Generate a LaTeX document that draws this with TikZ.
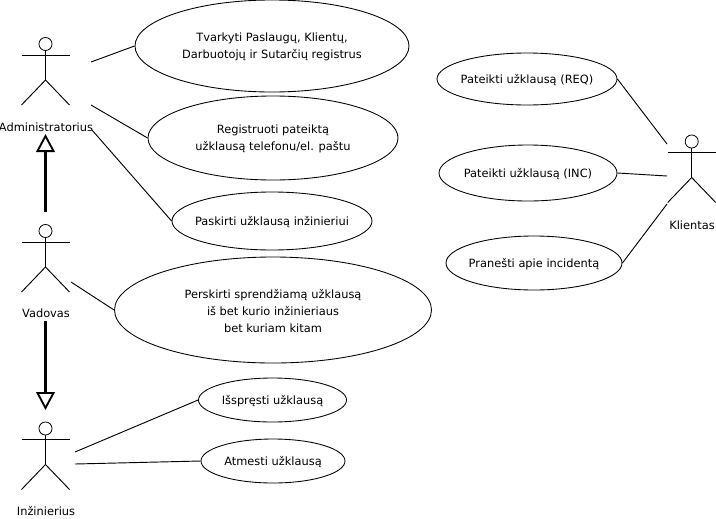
\documentclass[tikz,border=0pt]{standalone}
\usepackage{fontspec}
\setmainfont{DejaVu Sans}
\usetikzlibrary{arrows.meta,shapes.geometric}
\tikzset{
  usecase/.style={draw=black,ellipse,inner sep=0pt,line width=0.65pt},
  label text/.style={font=\fontsize{8.55}{12.6}\selectfont,align=center,text=black,inner sep=0pt},
  actor head/.style={draw=black,circle,minimum size=9.8pt,inner sep=0pt,line width=0.6pt},
  link/.style={draw=black,line width=0.7pt},
  inherit/.style={draw=black,line width=1.6pt,-{Triangle[open,length=13.5pt,width=14pt,line width=1.4pt]}},
  pics/actor/.style={code={
    \node[actor head] (#1-head) at (0,0) {};
    \draw[link] (#1-head.south) -- (0,36);
    \draw[link] (-24,11) -- (24,11);
    \draw[link] (-24,61) -- (0,36) -- (24,61);
  }}
}
\begin{document}
\begin{tikzpicture}[x=0.75pt,y=-0.75pt]
\useasboundingbox (0,0) rectangle (716,518);
\newcommand{\ucase}[6]{\node[usecase,minimum width=#3*1.5pt,minimum height=#4*1.5pt,label={[label text,yshift=-0.9pt]center:{#6}}] (#5) at (#1,#2) {};}
\ucase{272}{46}{137}{46}{e1}{Tvarkyti Paslaugų, Klientų,\\Darbuotojų ir Sutarčių registrus}
\ucase{273}{138}{125}{42}{e2}{Registruoti pateiktą\\užklausą telefonu/el. paštu}
\ucase{272}{221}{100}{29}{e3}{Paskirti užklausą inžinieriui}
\ucase{273}{310}{158.5}{53}{e4}{Perskirti sprendžiamą užklausą\\iš bet kurio inžinieriaus\\bet kuriam kitam}
\ucase{272.5}{400}{74}{22}{e5}{Išspręsti užklausą}
\ucase{273}{461}{72}{22}{e6}{Atmesti užklausą}
\ucase{527}{79}{90}{26}{r1}{Pateikti užklausą (REQ)}
\ucase{528}{173}{89}{28}{r2}{Pateikti užklausą (INC)}
\ucase{534}{263}{88}{27}{r3}{Pranešti apie incidentą}
\pic at (45.5,44) {actor=admin};
\pic at (45.5,231) {actor=vad};
\pic at (45.5,428.5) {actor=inz};
\pic at (691.7,141.5) {actor=kli};
\node[label text] (ladmin) at (46,127) {Administratorius};
\node[label text] (lvad) at (46,313) {Vadovas};
\node[label text] (linz) at (46,511) {Inžinierius};
\node[label text] (lkli) at (692,225) {Klientas};
\coordinate (a1) at (91,62);
\coordinate (a2) at (91,105);
\coordinate (a3) at (92,130);
\coordinate (v1) at (71,282);
\coordinate (i1) at (75,452);
\coordinate (i2) at (75,464);
\coordinate (k1) at (667,144);
\coordinate (k2) at (667,176);
\coordinate (k3) at (667,204);
\coordinate (g1s) at (45.5,212);
\coordinate (g1e) at (45.5,134);
\coordinate (g2s) at (45.5,321);
\coordinate (g2e) at (45.5,410);
\draw[link] (a1) -- (e1.west);
\draw[link] (a2) -- (e2.west);
\draw[link] (a3) -- (e3.west);
\draw[link] (v1) -- (e4.west);
\draw[link] (i1) -- (e5.west);
\draw[link] (i2) -- (e6.west);
\draw[link] (k1) -- (r1.east);
\draw[link] (k2) -- (r2.east);
\draw[link] (k3) -- (r3.east);
\draw[inherit] (g1s) -- (g1e);
\draw[inherit] (g2s) -- (g2e);
\end{tikzpicture}
\end{document}
